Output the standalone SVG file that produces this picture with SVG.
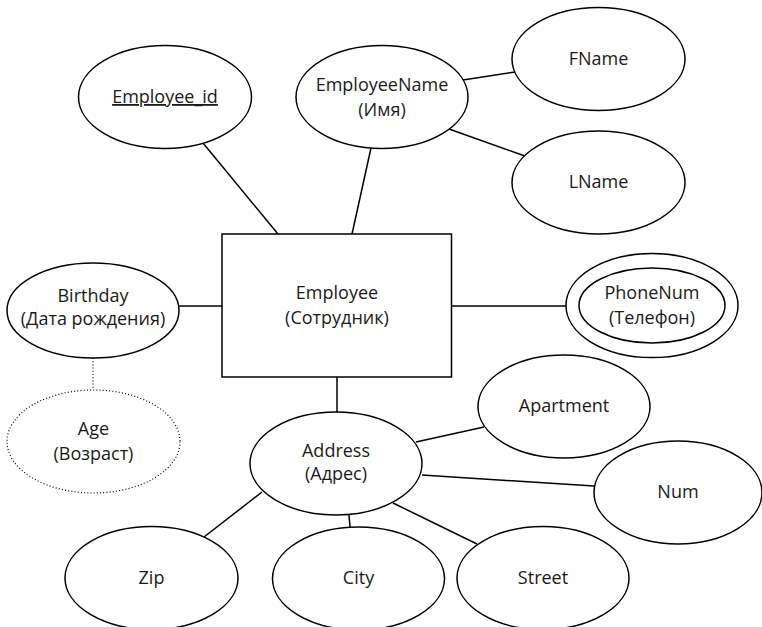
<svg xmlns="http://www.w3.org/2000/svg" width="762" height="627" viewBox="0 0 762 627">
<style>
.sh{fill:#fff;stroke:#000;stroke-width:1.5}
.dot{fill:#fff;stroke:#000;stroke-width:1.2;stroke-dasharray:1 2.2}
.ln{stroke:#000;stroke-width:1.5;fill:none}
.dl{stroke:#000;stroke-width:1.2;stroke-dasharray:1 2.2;fill:none}
text{font-family:"Open Sans","Liberation Sans",sans-serif;font-size:18px;fill:#1a1a1a;text-anchor:middle}
</style>
<rect width="762" height="627" fill="#fff"/>
<g id="connectors">
<line class="ln" x1="203" y1="143" x2="278" y2="234"/>
<line class="ln" x1="371" y1="148" x2="352" y2="234"/>
<line class="ln" x1="463" y1="80" x2="515" y2="72"/>
<line class="ln" x1="449" y1="129" x2="525" y2="156"/>
<line class="ln" x1="179" y1="306" x2="222" y2="306"/>
<line class="ln" x1="452" y1="306" x2="566" y2="306"/>
<line class="ln" x1="337" y1="377" x2="337" y2="412"/>
<line class="dl" x1="93" y1="358" x2="93" y2="390"/>
<line class="ln" x1="416" y1="442" x2="484" y2="427"/>
<line class="ln" x1="422" y1="475" x2="594" y2="486"/>
<line class="ln" x1="262" y1="492" x2="204" y2="537"/>
<line class="ln" x1="349" y1="515" x2="350" y2="527"/>
<line class="ln" x1="393" y1="503" x2="477" y2="544"/>
</g>
<g id="employee">
<rect class="sh" x="222" y="234" width="229.5" height="143"/>
<text x="337" y="299">Employee</text>
<text x="337" y="324">(Сотрудник)</text>
</g>
<g id="employee_id">
<ellipse class="sh" cx="165" cy="97" rx="86.5" ry="51.5"/>
<text x="165" y="103" text-decoration="underline">Employee_id</text>
</g>
<g id="employeename">
<ellipse class="sh" cx="382" cy="97" rx="86" ry="51.5"/>
<text x="382" y="91">EmployeeName</text>
<text x="382" y="116">(Имя)</text>
</g>
<g id="fname">
<ellipse class="sh" cx="598.5" cy="59" rx="86.5" ry="51.5"/>
<text x="598.5" y="65">FName</text>
</g>
<g id="lname">
<ellipse class="sh" cx="598.5" cy="182.5" rx="86.5" ry="51.5"/>
<text x="598.5" y="188">LName</text>
</g>
<g id="birthday">
<ellipse class="sh" cx="93" cy="310.5" rx="86" ry="47.5"/>
<text x="93" y="302">Birthday</text>
<text x="93" y="325">(Дата рождения)</text>
</g>
<g id="age">
<ellipse class="dot" cx="93.5" cy="441.5" rx="86.5" ry="51.5"/>
<text x="93.5" y="435">Age</text>
<text x="93.5" y="460">(Возраст)</text>
</g>
<g id="phonenum">
<ellipse class="sh" cx="652" cy="305.5" rx="86" ry="52"/>
<ellipse class="sh" cx="652" cy="305.5" rx="73" ry="37.5"/>
<text x="652" y="299">PhoneNum</text>
<text x="652" y="324">(Телефон)</text>
</g>
<g id="address">
<ellipse class="sh" cx="336" cy="463.5" rx="86" ry="51.5"/>
<text x="336" y="457">Address</text>
<text x="336" y="480">(Адрес)</text>
</g>
<g id="apartment">
<ellipse class="sh" cx="564" cy="406.5" rx="86" ry="51.5"/>
<text x="564" y="412">Apartment</text>
</g>
<g id="num">
<ellipse class="sh" cx="678" cy="492.5" rx="84" ry="51.5"/>
<text x="678" y="498">Num</text>
</g>
<g id="zip">
<ellipse class="sh" cx="151.5" cy="578" rx="86.5" ry="51.5"/>
<text x="151.5" y="584">Zip</text>
</g>
<g id="city">
<ellipse class="sh" cx="358.5" cy="578.5" rx="86" ry="51.5"/>
<text x="358.5" y="584">City</text>
</g>
<g id="street">
<ellipse class="sh" cx="543" cy="578" rx="86" ry="51.5"/>
<text x="543" y="584">Street</text>
</g>
</svg>
